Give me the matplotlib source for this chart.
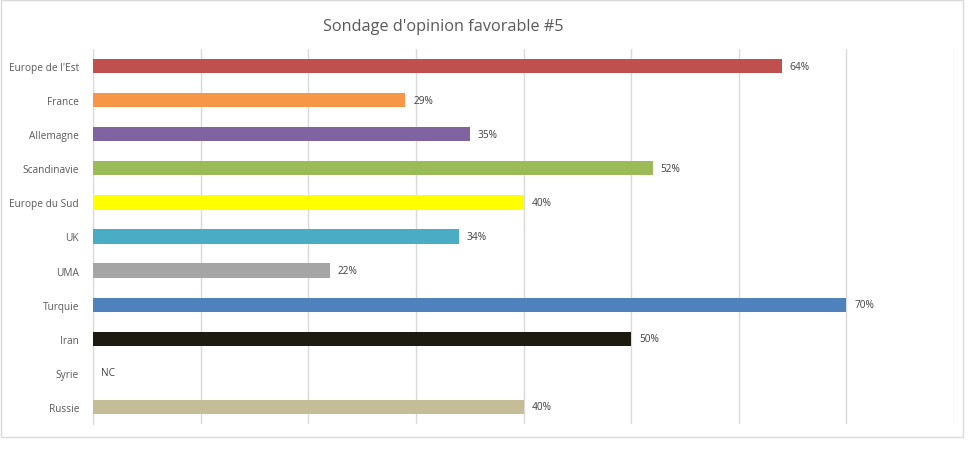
import matplotlib.pyplot as plt
from matplotlib.patches import Rectangle

# Data
categories = ["Europe de l'Est", "France", "Allemagne", "Scandinavie", "Europe du Sud",
              "UK", "UMA", "Turquie", "Iran", "Syrie", "Russie"]
values = [64, 29, 35, 52, 40, 34, 22, 70, 50, None, 40]
colors = ["#C0504D", "#F79646", "#8064A2", "#9BBB59", "#FFFF00",
          "#4BACC6", "#A5A5A5", "#4F81BD", "#1D1B10", "#FFFFFF", "#C4BD97"]
title = "Sondage d'opinion favorable #5"

plt.rcParams["font.family"] = ["Open Sans", "DejaVu Sans"]
text_color = "#595959"

fig = plt.figure(figsize=(9.69, 4.60), dpi=100)
ax = fig.add_axes([93 / 969, 35 / 460, (954 - 93) / 969, (424 - 49) / 460])

# chart border
fig.patches.append(Rectangle((1 / 969, 22 / 460), 962 / 969, 437 / 460,
                             transform=fig.transFigure, fill=False,
                             edgecolor="#D9D9D9", linewidth=1))

ypos = list(range(len(categories)))
bar_vals = [v if v is not None else 0 for v in values]
ax.barh(ypos, bar_vals, height=0.42, color=colors, zorder=3)

for y, v in zip(ypos, values):
    label = f"{v}%" if v is not None else "NC"
    x = v if v is not None else 0
    ax.text(x + 0.75, y, label, va="center", ha="left", fontsize=7.3, color="#404040", zorder=4)

ax.set_xlim(0, 80)
ax.set_ylim(len(categories) - 0.5, -0.5)
ax.set_xticks(range(0, 81, 10))
ax.set_xticklabels([])
ax.tick_params(axis="x", length=0)
ax.set_yticks(ypos)
ax.set_yticklabels(categories, fontsize=7.3, color=text_color)
ax.tick_params(axis="y", length=0, pad=10)
ax.grid(axis="x", color="#D9D9D9", linewidth=1, zorder=0)

for side in ["top", "right", "bottom"]:
    ax.spines[side].set_visible(False)
ax.spines["left"].set_color("#D9D9D9")

fig.text(443 / 969, 1 - 27 / 460, title, ha="center", va="center", fontsize=11.7, color=text_color)

fig.savefig("out.png", dpi=100)
